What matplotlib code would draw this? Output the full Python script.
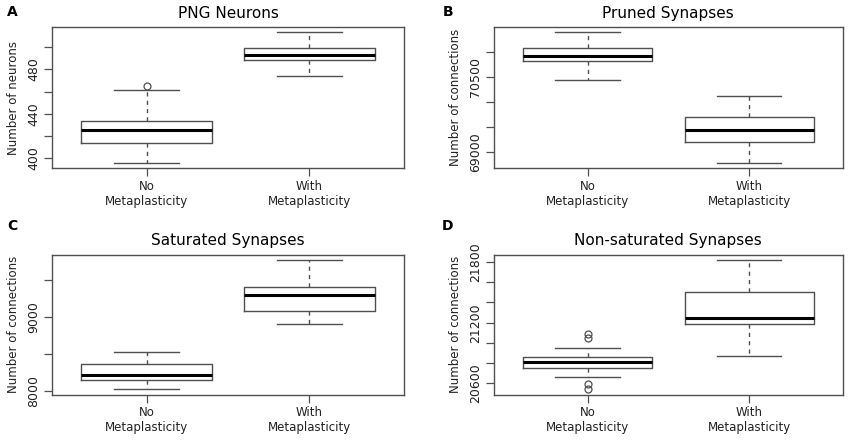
import matplotlib
matplotlib.use("Agg")
import matplotlib.pyplot as plt

# group labels shared by all four panels
groups = ["No\nMetaplasticity", "With\nMetaplasticity"]

# box statistics: [whislo, q1, med, q3, whishi]
png_no = [396, 414, 425.5, 433.5, 461]
png_with = [474, 488, 493, 499.5, 513]
png_no_out = [465]
png_with_out = []

pruned_no = [70433, 70824, 70911, 71086, 71389]
pruned_with = [68778, 69188, 69437, 69693, 70117]

sat_no = [8023, 8153, 8221, 8360, 8522]
sat_with = [8901, 9076, 9293, 9405, 9766]

nonsat_no = [20666, 20752, 20808, 20858, 20954]
nonsat_with = [20874, 21188, 21248, 21503, 21820]
nonsat_no_out = [20540, 20590, 21050, 21084]

panels = [
    ("A", "PNG Neurons", "Number of neurons", png_no, png_with, png_no_out, png_with_out, [400, 420, 440, 460, 480, 500], [400, 440, 480]),
    ("B", "Pruned Synapses", "Number of connections", pruned_no, pruned_with, [], [], [69000, 69500, 70000, 70500, 71000], [69000, 70500]),
    ("C", "Saturated Synapses", "Number of connections", sat_no, sat_with, [], [], [8000, 8500, 9000, 9500], [8000, 9000]),
    ("D", "Non-saturated Synapses", "Number of connections", nonsat_no, nonsat_with, nonsat_no_out, [], [20600, 20800, 21000, 21200, 21400, 21600, 21800], [20600, 21200, 21800]),
]

# axes rectangles in figure fractions
rects = [
    [0.0612, 0.618, 0.414, 0.320],
    [0.581, 0.618, 0.4106, 0.320],
    [0.0612, 0.103, 0.414, 0.318],
    [0.581, 0.103, 0.4106, 0.318],
]
# panel letter positions
letter_xy = [(0.008, 0.973), (0.521, 0.973), (0.008, 0.486), (0.520, 0.486)]

gray = "#505050"

fig = plt.figure(figsize=(8.5, 4.4), dpi=100)

for (letter, title, ylab, no, wi, no_out, wi_out, ticks, labelled), rect, lxy in zip(panels, rects, letter_xy):
    ax = fig.add_axes(rect)
    stats = []
    for s, out in ((no, no_out), (wi, wi_out)):
        stats.append(dict(whislo=s[0], q1=s[1], med=s[2], q3=s[3], whishi=s[4], fliers=out))
    ax.bxp(stats, positions=[1, 2], widths=0.8, showfliers=True,
           boxprops=dict(color=gray, linewidth=1.0),
           medianprops=dict(color="black", linewidth=2.2),
           whiskerprops=dict(color=gray, linewidth=1.0, linestyle=(0, (3, 3))),
           capprops=dict(color=gray, linewidth=1.0),
           flierprops=dict(marker="o", markerfacecolor="none", markeredgecolor=gray,
                           markersize=5, markeredgewidth=0.9),
           capwidths=0.4)
    lo = min([no[0], wi[0]] + no_out + wi_out)
    hi = max([no[4], wi[4]] + no_out + wi_out)
    pad = (hi - lo) * 0.04
    ax.set_ylim(lo - pad, hi + pad)
    ax.set_xlim(0.42, 2.58)
    ax.set_xticks([1, 2])
    ax.set_xticklabels(groups, fontsize=8.5, color="#222222")
    ax.set_yticks(ticks)
    ax.set_yticklabels([str(t) if t in labelled else "" for t in ticks],
                       rotation=90, va="center", fontsize=9, color="#222222")
    ax.tick_params(length=5.5, width=0.9, color=gray, pad=3)
    for sp in ax.spines.values():
        sp.set_color(gray)
        sp.set_linewidth(1.0)
    ax.set_ylabel(ylab, fontsize=8.5, color="#222222", labelpad=5)
    ax.set_title(title, fontsize=11, pad=7)
    fig.text(lxy[0], lxy[1], letter, fontsize=10, fontweight="bold",
             ha="left", va="center")

fig.savefig("out.png", dpi=100)
